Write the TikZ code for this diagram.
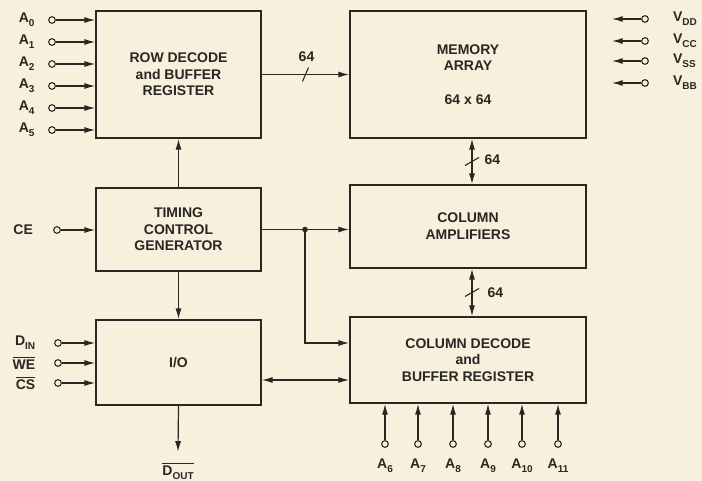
\documentclass[tikz,border=0pt]{standalone}
\usepackage{fontspec}
\setmainfont{Liberation Sans}
\usetikzlibrary{arrows.meta,positioning,calc}
\definecolor{paper}{HTML}{F6F0DD}
\definecolor{ink}{HTML}{2A2622}
\newcommand{\pinsub}[1]{\raisebox{-0.55ex}{\fontsize{7.5}{8}\selectfont #1}}
\tikzset{>={Latex[length=8pt,width=4.5pt]},
  blk/.style={draw=ink,line width=1.3pt,fill=paper,font=\fontsize{10.5}{12.5}\selectfont\bfseries,
    text=ink,align=center,inner sep=2pt},
  pin/.style={circle,draw=ink,line width=0.8pt,fill=paper,minimum size=5pt,inner sep=0pt},
  pinlab/.style={font=\fontsize{10.5}{12}\selectfont\bfseries,text=ink,inner sep=1pt},
  wire/.style={draw=ink,line width=0.9pt},
  busmark/.style={draw=ink,line width=0.8pt},
  buslab/.style={font=\fontsize{10.5}{12}\selectfont\bfseries,text=ink,inner sep=1pt}}

\begin{document}
\begin{tikzpicture}[x=0.75pt,y=-0.75pt]
\fill[paper] (0,0) rectangle (702,481);
\useasboundingbox (0,0) rectangle (702,481);
% blocks
\node[blk,minimum width=123.75pt,minimum height=95.25pt] (rowdec) at (178.5,74.5) {ROW DECODE\\and BUFFER\\REGISTER};
\node[blk,minimum width=123.75pt,minimum height=62.25pt] (timing) at (178.5,229.5) {TIMING\\CONTROL\\GENERATOR};
\node[blk,minimum width=123.75pt,minimum height=63.75pt] (io) at (178.5,362.5) {I/O};
\node[blk,minimum width=177pt,minimum height=95.25pt] (mem) at (468,74.5) {MEMORY\\ARRAY\\[12.75pt]64 x 64};
\node[blk,minimum width=177pt,minimum height=62.25pt] (amps) at (468,226.5) {COLUMN\\AMPLIFIERS};
\node[blk,minimum width=177pt,minimum height=64.5pt] (coldec) at (468,360) {COLUMN DECODE\\and\\BUFFER REGISTER};
% row address pins
\foreach \i/\yy in {0/20,1/42,2/64,3/86,4/108,5/130}{
  \node[pin] (a\i) at (52,\yy) {};
  \node[pinlab,left=9pt of a\i] (a\i lab) {A\pinsub{\i}};
  \draw[wire,->] (a\i) -- (a\i -| rowdec.west);
}
% column address pins
\foreach \i/\xx in {6/385,7/418,8/453,9/488,10/522,11/558}{
  \node[pin] (a\i) at (\xx,444) {};
  \node[pinlab,below=7pt of a\i] (a\i lab) {A\pinsub{\i}};
  \draw[wire,->] (a\i) -- (a\i |- coldec.south);
}
% supply pins
\foreach \v/\nm/\yy in {vdd/DD/19,vcc/CC/41,vss/SS/61,vbb/BB/83}{
  \node[pin] (\v) at (645,\yy) {};
  \node[pinlab,right=17pt of \v] (\v lab) {V\pinsub{\nm}};
  \coordinate (\v end) at (612,\yy);
  \draw[wire,->] (\v) -- (\v end);
}
% control pins
\node[pin] (ce) at (57,230) {};
\node[pinlab,left=14pt of ce] (celab) {CE};
\draw[wire,->] (ce) -- (ce -| timing.west);
\node[pin] (din) at (58,343) {};
\node[pinlab,left=13pt of din] (dinlab) {D\pinsub{IN}};
\node[pin] (we) at (58,363) {};
\node[pinlab,left=13pt of we] (welab) {$\overline{\mbox{WE}}$};
\node[pin] (cs) at (58,383) {};
\node[pinlab,left=13pt of cs] (cslab) {$\overline{\mbox{CS}}$};
\foreach \p in {din,we,cs}
  \draw[wire,->] (\p) -- (\p -| io.west);
% timing connections
\draw[wire,->] (timing.north) -- (rowdec.south);
\draw[wire,->] (timing.south) -- (io.north);
\coordinate (tapx) at (305,0);
\coordinate (tap) at (timing.east -| tapx);
\draw[wire,->] (timing.east) -- (timing.east -| amps.west);
\draw[wire,->] (tap) |- (coldec.west |- din);
\fill[ink] (tap) circle (2.1pt);
% data out
\node[pinlab] (dout) at (178,471) {$\overline{\mbox{D\pinsub{OUT}}}$};
\draw[wire,->] (io.south) -- ([yshift=7pt]dout.north);
% io bus
\coordinate (iobus) at (0,380);
\draw[wire,<->] (io.east |- iobus) -- (coldec.west |- iobus);
% 64 wide buses
\draw[wire,->] (rowdec.east |- mem.west) -- coordinate[pos=0.5] (rowbus) (mem.west);
\draw[busmark] ($(rowbus)+(-3,7)$) -- ($(rowbus)+(3,-7)$);
\node[buslab] (rowbuslab) at ($(rowbus)+(1,-18)$) {64};
\coordinate (busx) at (472,0);
\draw[wire,<->] (mem.south -| busx) -- coordinate[pos=0.5] (bus1) (amps.north -| busx);
\draw[busmark] ($(bus1)+(-7,4)$) -- ($(bus1)+(7,-4)$);
\node[buslab,anchor=west] (bus1lab) at ($(bus1)+(11,-2)$) {64};
\draw[wire,<->] (amps.south -| busx) -- coordinate[pos=0.5] (bus2) (coldec.north -| busx);
\draw[busmark] ($(bus2)+(-7,4)$) -- ($(bus2)+(7,-4)$);
\node[buslab,anchor=west] (bus2lab) at ($(bus2)+(14,0)$) {64};
\end{tikzpicture}
\end{document}
